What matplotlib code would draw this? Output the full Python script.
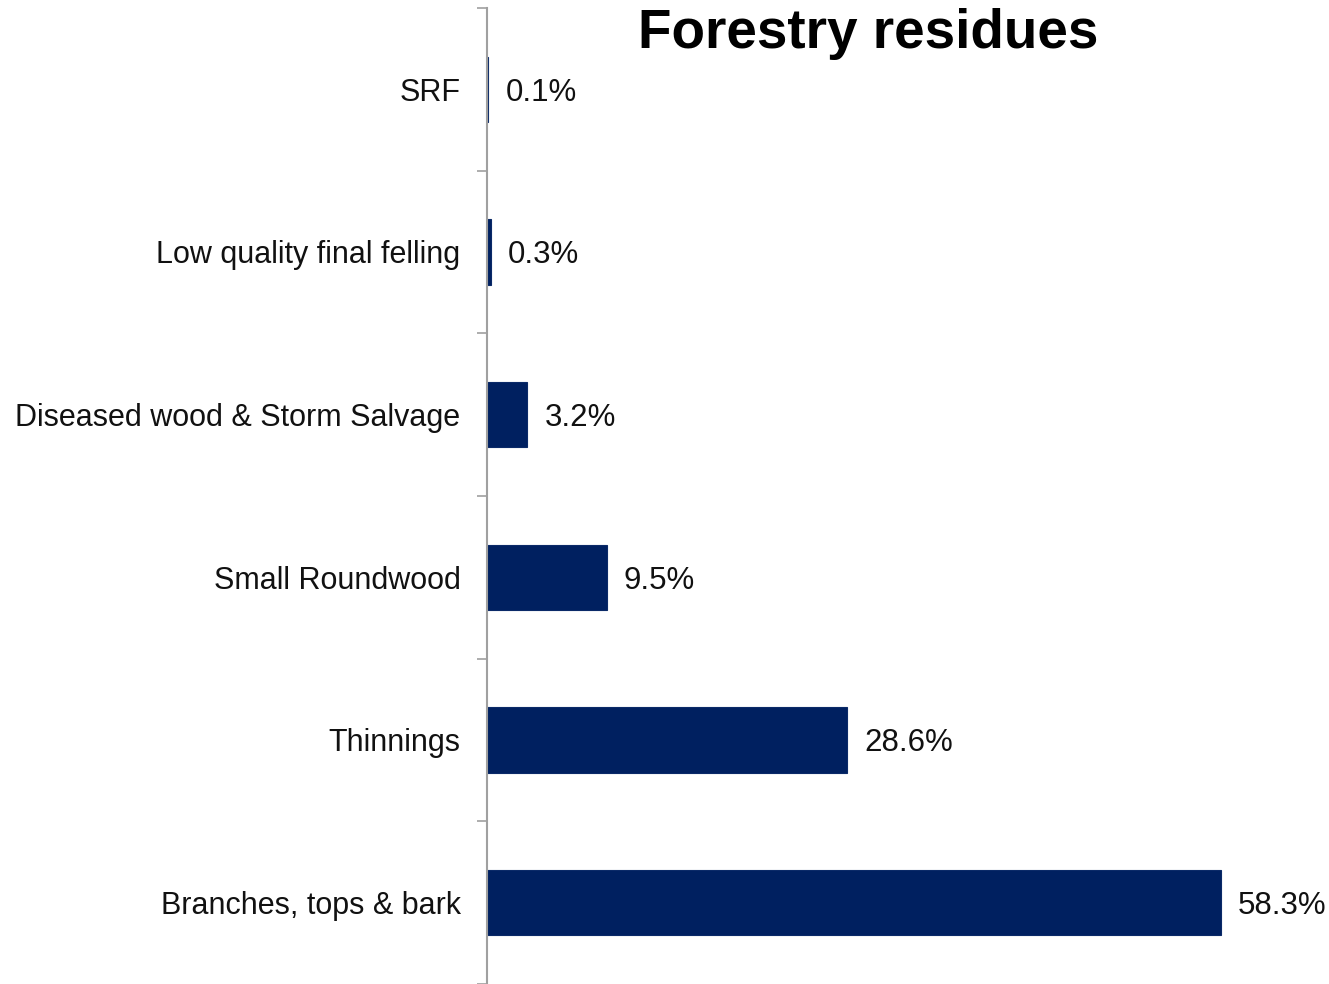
import matplotlib.pyplot as plt
import numpy as np

plt.rcParams['font.family'] = ['Liberation Sans', 'DejaVu Sans']

categories = ['SRF', 'Low quality final felling', 'Diseased wood & Storm Salvage',
              'Small Roundwood', 'Thinnings', 'Branches, tops & bark']
shares = [0.1, 0.3, 3.2, 9.5, 28.6, 58.3]

fig = plt.figure(figsize=(13.29, 9.84), dpi=100)
ax = fig.add_axes([487 / 1329, 0.0, 1 - 487 / 1329, 976 / 984])

y = np.arange(len(categories))
ax.barh(y, shares, height=0.4, color='#002060', edgecolor='#0b2a68', linewidth=0.8)

for yi, v in zip(y, shares):
    ax.text(v + 1.35, yi + 0.02, f'{v:.1f}%', va='center', ha='left', fontsize=22.5, color='#111111')

ax.set_xlim(0, 842 / 12.59)
ax.set_ylim(len(categories) - 0.5, -0.5)

# tick marks sit on the category boundaries, labels in the middle
ax.set_yticks(np.arange(len(categories) + 1) - 0.5)
ax.set_yticklabels([])
ax.set_yticks(y, minor=True)
ax.set_yticklabels(categories, minor=True, fontsize=22, color='#111111')
ax.tick_params(axis='y', which='major', length=7.5, width=1.2, color='#a0a0a0', direction='out')
ax.tick_params(axis='y', which='minor', length=0, pad=19)
ax.set_xticks([])

for s in ['top', 'right', 'bottom']:
    ax.spines[s].set_visible(False)
ax.spines['left'].set_color('#a0a0a0')
ax.spines['left'].set_linewidth(1.5)

fig.text(868 / 1329, 1 - 34 / 984, 'Forestry residues', ha='center', va='center',
         fontsize=39.5, fontweight='bold', color='#000000')

fig.savefig('out.png', dpi=100)
